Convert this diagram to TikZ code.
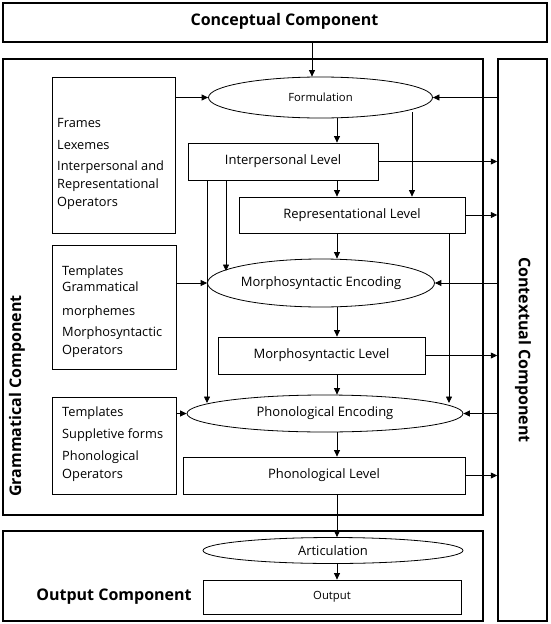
\documentclass[tikz,border=0pt]{standalone}
\usepackage{fontspec}
\setmainfont{Open Sans}
\usetikzlibrary{shapes.geometric,arrows.meta}
\begin{document}
\begin{tikzpicture}[x=1pt,y=-1pt,
  outer/.style={draw,line width=1.5pt,rectangle,inner sep=0pt},
  level/.style={draw,line width=0.8pt,rectangle,inner sep=0pt,font=\fontsize{13}{15}\selectfont},
  proc/.style={draw,line width=0.8pt,ellipse,inner sep=0pt,font=\fontsize{13}{15}\selectfont},
  listbox/.style={draw,line width=0.8pt,rectangle,inner sep=0pt},
  listtext/.style={anchor=north west,align=left,inner sep=0pt,font=\fontsize{12.8}{18}\selectfont},
  title/.style={font=\bfseries\fontsize{16}{18}\selectfont,inner sep=0pt},
  arr/.style={line width=0.8pt,-{Triangle[length=6.5pt,width=6pt]}},
  ln/.style={line width=0.8pt}]
\useasboundingbox (0,0) rectangle (550,624);
% outer components
\node[outer,minimum width=544,minimum height=39] (cc) at (275,22.5) {};
\node[title] (cct) at (284.5,21) {Conceptual Component};
\node[outer,minimum width=480,minimum height=456] (gc) at (243,287) {};
\node[title,rotate=90] (gct) at (17,396) {Grammatical Component};
\node[outer,minimum width=49,minimum height=562] (ctx) at (522.5,340) {};
\node[title,rotate=-90] (ctxt) at (523,350) {Contextual Component};
\node[outer,minimum width=480,minimum height=90] (oc) at (243,576) {};
\node[title] (oct) at (114,597) {Output Component};
% left boxes
\node[listbox,minimum width=123,minimum height=156] (b1) at (113.5,155) {};
\node[listtext] (b1t) at (57,118.5) {Frames\\[4pt]Lexemes\\[3pt]Interpersonal and\\Representational\\Operators};
\node[listbox,minimum width=124,minimum height=124] (b2) at (114,307) {};
\node[listtext] (b2t) at (62,266) {Templates\\[-2pt]Grammatical\\[6pt]morphemes\\[3pt]Morphosyntactic\\Operators};
\node[listbox,minimum width=124,minimum height=97] (b3) at (114,445.5) {};
\node[listtext] (b3t) at (62,407) {Templates\\[4pt]Suppletive forms\\[4pt]Phonological\\Operators};
% central chain
\node[proc,minimum width=224,minimum height=41,font=\fontsize{11.3}{13}\selectfont] (fm) at (320.5,97.5) {Formulation};
\node[level,minimum width=190,minimum height=37] (ip) at (283,161.5) {Interpersonal Level};
\node[level,minimum width=226,minimum height=36] (rp) at (352,215) {Representational Level};
\node[proc,minimum width=216,minimum height=48] (me) at (321,283) {Morphosyntactic Encoding};
\node[level,minimum width=207,minimum height=37] (ml) at (321.5,355.5) {Morphosyntactic Level};
\node[proc,minimum width=276,minimum height=37] (pe) at (325,413.5) {Phonological Encoding};
\node[level,minimum width=282,minimum height=37] (pl) at (324,475.5) {Phonological Level};
\node[proc,minimum width=260,minimum height=26] (ar) at (333,550.5) {Articulation};
\node[level,minimum width=258,minimum height=34,font=\fontsize{11.3}{13}\selectfont] (out) at (332,597) {Output};
% helper coordinates
\coordinate (cx) at (337,0);
\coordinate (cx0) at (312,0);
\coordinate (d1) at (412,112);
\coordinate (d2s) at (207,0);
\coordinate (d2e) at (207,403);
\coordinate (d3s) at (226,0);
\coordinate (d3e) at (226,271);
\coordinate (d4s) at (449,0);
\coordinate (d4e) at (449,403);
% arrows
\draw[arr] (cc.south -| cx0) -- (fm.north -| cx0);
\draw[arr] (b1.east |- fm.west) -- (fm.west);
\draw[arr] (ctx.west |- fm.east) -- (fm.east);
\draw[arr] (fm.south -| cx) -- (ip.north -| cx);
\draw[arr] (d1) -- (rp.north -| d1);
\draw[arr] (ip.east) -- (ip.east -| ctx.west);
\draw[arr] (ip.south -| cx) -- (rp.north -| cx);
\draw[arr] (ip.south -| d2s) -- (d2e);
\draw[arr] (ip.south -| d3s) -- (d3e);
\draw[arr] (rp.east) -- (rp.east -| ctx.west);
\draw[arr] (rp.south -| cx) -- (me.north -| cx);
\draw[arr] (rp.south -| d4s) -- (d4e);
\draw[arr] (b2.east |- me.west) -- (me.west);
\draw[arr] (ctx.west |- me.east) -- (me.east);
\draw[arr] (me.south -| cx) -- (ml.north -| cx);
\draw[arr] (ml.east) -- (ml.east -| ctx.west);
\draw[arr] (ml.south -| cx) -- (pe.north -| cx);
\draw[arr] (b3.east |- pe.west) -- (pe.west);
\draw[arr] (ctx.west |- pe.east) -- (pe.east);
\draw[arr] (pe.south -| cx) -- (pl.north -| cx);
\draw[arr] (pl.east) -- (pl.east -| ctx.west);
\draw[arr] (pl.south -| cx) -- (ar.north -| cx);
\draw[arr] (ar.south -| cx) -- (out.north -| cx);
\end{tikzpicture}
\end{document}
